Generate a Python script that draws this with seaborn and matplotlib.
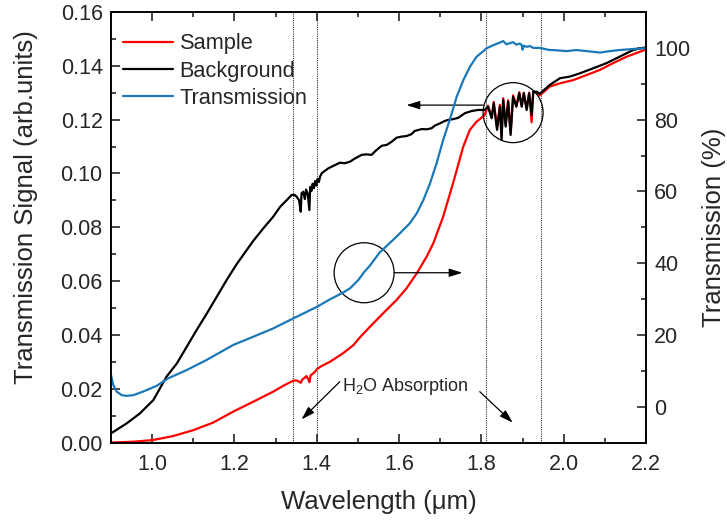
import numpy as np
import pandas as pd
import seaborn as sns
import matplotlib
matplotlib.use("Agg")
import matplotlib.pyplot as plt
from matplotlib.patches import Ellipse
from matplotlib.ticker import MultipleLocator

# ---------------- data ----------------
bg_x = [0.900, 0.938, 0.970, 1.003, 1.035, 1.060, 1.084, 1.108, 1.133, 1.157, 1.181,
        1.205, 1.230, 1.246, 1.270, 1.294, 1.311, 1.327, 1.339, 1.345, 1.351, 1.357,
        1.361, 1.363, 1.367, 1.371, 1.374, 1.378, 1.382, 1.384, 1.387, 1.390, 1.393,
        1.396, 1.399, 1.402, 1.405, 1.408, 1.412, 1.428, 1.444, 1.456, 1.468, 1.481,
        1.493, 1.509, 1.521, 1.533, 1.545, 1.558, 1.570, 1.582, 1.594, 1.606, 1.618,
        1.630, 1.638, 1.655, 1.667, 1.679, 1.687, 1.699, 1.711, 1.719, 1.732, 1.744,
        1.760, 1.776, 1.792, 1.808, 1.816, 1.825, 1.830, 1.838, 1.845, 1.849, 1.853,
        1.859, 1.865, 1.871, 1.877, 1.885, 1.892, 1.898, 1.903, 1.910, 1.916, 1.922,
        1.926, 1.934, 1.942, 1.966, 1.991, 2.015, 2.039, 2.072, 2.104, 2.136, 2.169,
        2.197]
bg_y = [0.0034, 0.0071, 0.0108, 0.0158, 0.0245, 0.0294, 0.0356, 0.0418, 0.0480, 0.0542, 0.0604,
        0.0662, 0.0716, 0.0750, 0.0796, 0.0839, 0.0876, 0.0901, 0.0920, 0.0921, 0.0914, 0.0900,
        0.0858, 0.0926, 0.0932, 0.0905, 0.0940, 0.0925, 0.0864, 0.0950, 0.0935, 0.0962, 0.0945,
        0.0972, 0.0955, 0.0980, 0.0968, 0.0988, 0.1001, 0.1019, 0.1031, 0.1040, 0.1038, 0.1044,
        0.1056, 0.1069, 0.1071, 0.1069, 0.1087, 0.1103, 0.1106, 0.1118, 0.1133, 0.1137, 0.1139,
        0.1146, 0.1158, 0.1165, 0.1164, 0.1168, 0.1178, 0.1186, 0.1195, 0.1199, 0.1202, 0.1207,
        0.1224, 0.1232, 0.1236, 0.1236, 0.1248, 0.1205, 0.1261, 0.1162, 0.1248, 0.1125, 0.1273,
        0.1174, 0.1267, 0.1143, 0.1285, 0.1248, 0.1298, 0.1248, 0.1298, 0.1236, 0.1298, 0.1217,
        0.1304, 0.1304, 0.1296, 0.1329, 0.1354, 0.1360, 0.1372, 0.1391, 0.1410, 0.1434, 0.1459,
        0.1468]

smp_x = [0.900, 0.954, 1.001, 1.051, 1.100, 1.148, 1.197, 1.246, 1.294, 1.320, 1.343,
         1.350, 1.357, 1.361, 1.365, 1.370, 1.375, 1.379, 1.382, 1.385, 1.390, 1.395,
         1.400, 1.410, 1.432, 1.464, 1.489, 1.505, 1.529, 1.561, 1.594, 1.618, 1.643,
         1.667, 1.683, 1.707, 1.731, 1.756, 1.772, 1.788, 1.808, 1.816, 1.825, 1.830,
         1.838, 1.845, 1.849, 1.853, 1.859, 1.865, 1.871, 1.877, 1.885, 1.892, 1.898,
         1.903, 1.910, 1.916, 1.922, 1.926, 1.934, 1.942, 1.966, 1.991, 2.023, 2.056,
         2.088, 2.120, 2.153, 2.197]
smp_y = [0.0000, 0.0003, 0.0009, 0.0024, 0.0046, 0.0074, 0.0115, 0.0152, 0.0189, 0.0212, 0.0230,
         0.0231, 0.0226, 0.0222, 0.0235, 0.0240, 0.0247, 0.0236, 0.0224, 0.0250, 0.0255, 0.0262,
         0.0272, 0.0283, 0.0300, 0.0332, 0.0362, 0.0391, 0.0430, 0.0480, 0.0530, 0.0573, 0.0629,
         0.0691, 0.0740, 0.0839, 0.0963, 0.1100, 0.1162, 0.1192, 0.1217, 0.1252, 0.1210, 0.1266,
         0.1170, 0.1255, 0.1135, 0.1280, 0.1182, 0.1272, 0.1150, 0.1290, 0.1252, 0.1302, 0.1250,
         0.1300, 0.1240, 0.1300, 0.1190, 0.1302, 0.1300, 0.1290, 0.1323, 0.1335, 0.1347, 0.1366,
         0.1385, 0.1410, 0.1434, 0.1459]

tr_x = [0.900, 0.9056, 0.9138, 0.926, 0.938, 0.954, 0.978, 1.011, 1.039, 1.084, 1.132,
        1.197, 1.246, 1.294, 1.343, 1.400, 1.432, 1.464, 1.481, 1.501, 1.515, 1.529,
        1.553, 1.594, 1.626, 1.643, 1.659, 1.675, 1.691, 1.707, 1.723, 1.740, 1.756,
        1.772, 1.788, 1.808, 1.8125, 1.830, 1.845, 1.853, 1.861, 1.869, 1.877, 1.885,
        1.893, 1.898, 1.900, 1.903, 1.910, 1.918, 1.926, 1.942, 1.966, 1.974, 2.007,
        2.031, 2.072, 2.088, 2.112, 2.136, 2.169, 2.201]
tr_y = [8.8, 6.0, 4.2, 3.2, 3.0, 3.2, 4.2, 5.8, 7.9, 10.2, 13.0,
        17.2, 19.5, 21.8, 24.6, 27.8, 29.9, 31.8, 33.0, 35.3, 37.5, 39.3,
        43.0, 47.4, 51.1, 53.9, 57.6, 62.2, 67.8, 74.3, 79.9, 86.4, 91.0,
        94.7, 97.5, 99.4, 99.9, 100.8, 101.5, 101.9, 101.0, 101.3, 101.6, 100.9,
        101.2, 100.8, 99.5, 100.6, 100.3, 100.5, 100.0, 100.0, 99.4, 99.4, 99.1,
        99.4, 98.9, 98.7, 99.1, 99.4, 99.7, 99.9]

water_bands = [1.343, 1.401, 1.812, 1.944]

x_ticks = [1.0, 1.2, 1.4, 1.6, 1.8, 2.0, 2.2]
y_left_ticks = [0.00, 0.02, 0.04, 0.06, 0.08, 0.10, 0.12, 0.14, 0.16]
y_right_ticks = [0, 20, 40, 60, 80, 100]

RED = "#ff0000"
BLACK = "#000000"
BLUE = "#1a78b8"

# ---------------- style ----------------
sns.set_style("white")
plt.rcParams["font.family"] = ["Liberation Sans", "DejaVu Sans"]
plt.rcParams["mathtext.fontset"] = "custom"
plt.rcParams["mathtext.rm"] = "Liberation Sans"
plt.rcParams["mathtext.it"] = "Liberation Sans:italic"

fig = plt.figure(figsize=(7.27, 5.27), dpi=100)
ax = fig.add_axes([0.1527, 0.1603, 0.7359, 0.8169])
ax2 = ax.twinx()

df_s = pd.DataFrame({"x": smp_x, "y": smp_y})
df_b = pd.DataFrame({"x": bg_x, "y": bg_y})
df_t = pd.DataFrame({"x": tr_x, "y": tr_y})

sns.lineplot(data=df_s, x="x", y="y", ax=ax, color=RED, lw=1.6, sort=False,
             estimator=None, label="Sample", legend=False)
sns.lineplot(data=df_b, x="x", y="y", ax=ax, color=BLACK, lw=1.6, sort=False,
             estimator=None, label="Background", legend=False)
sns.lineplot(data=df_t, x="x", y="y", ax=ax2, color=BLUE, lw=1.6, sort=False,
             estimator=None, label="Transmission", legend=False)

for xb in water_bands:
    ax.axvline(xb, color="#333333", lw=0.8, ls=(0, (1, 1)), zorder=0)

ax.set_xlim(0.9, 2.2)
ax.set_ylim(0.0, 0.16)
ax2.set_ylim(-10, 110)
ax.set_xticks(x_ticks)
ax.set_xticklabels([f"{v:.1f}" for v in x_ticks])
ax.set_yticks(y_left_ticks)
ax.set_yticklabels([f"{v:.2f}" for v in y_left_ticks])
ax2.set_yticks(y_right_ticks)
ax2.set_yticklabels([str(v) for v in y_right_ticks])

ax.xaxis.set_minor_locator(MultipleLocator(0.1))
ax.yaxis.set_minor_locator(MultipleLocator(0.01))
ax2.yaxis.set_minor_locator(MultipleLocator(10))

TS = 15.5
ax.tick_params(axis="x", which="both", direction="in", top=True, bottom=True,
               labelsize=TS, pad=8, width=1.2)
ax.tick_params(axis="y", which="both", direction="in", left=True, right=False,
               labelsize=TS, pad=6, width=1.2)
ax2.tick_params(axis="y", which="both", direction="in", right=True, left=False,
                labelsize=TS, pad=6, width=1.2)
for a in (ax, ax2):
    a.tick_params(which="major", length=6.5)
    a.tick_params(which="minor", length=3.5)
    for sp in a.spines.values():
        sp.set_linewidth(1.2)
        sp.set_color("black")

LS = 18.5
ax.set_xlabel("Wavelength (μm)", fontsize=LS, labelpad=11)
ax.set_ylabel("Transmission Signal (arb.units)", fontsize=LS)
ax.yaxis.set_label_coords(-0.137, 0.547)
ax2.set_ylabel("Transmission (%)", fontsize=LS, labelpad=8)

# legend
h1, l1 = ax.get_legend_handles_labels()
h2, l2 = ax2.get_legend_handles_labels()
leg = ax.legend(h1 + h2, l1 + l2, loc="upper left", frameon=False, fontsize=15.7,
                handlelength=2.3, handletextpad=0.3, labelspacing=0.28,
                borderaxespad=0.15, bbox_to_anchor=(0.0, 0.978))

# annotations
ax.add_patch(Ellipse((1.877, 0.1226), 0.1457, 0.0223, fill=False, lw=0.9, color="black", zorder=5))
ax.add_patch(Ellipse((1.515, 0.0631), 0.1457, 0.0223, fill=False, lw=0.9, color="black", zorder=5))
arrow = dict(arrowstyle="-|>,head_length=0.8,head_width=0.25", color="black", lw=0.9,
             shrinkA=0, shrinkB=0)
ax.annotate("", xy=(1.618, 0.1254), xytext=(1.804, 0.1254), arrowprops=arrow)
ax.annotate("", xy=(1.754, 0.0631), xytext=(1.588, 0.0631), arrowprops=arrow)
ax.annotate("", xy=(1.363, 0.0086), xytext=(1.456, 0.0226), arrowprops=arrow)
ax.annotate("", xy=(1.876, 0.0074), xytext=(1.796, 0.0189), arrowprops=arrow)
ax.text(1.462, 0.0207, "H$_2$O Absorption", fontsize=13, va="center", ha="left")

fig.savefig("out.png", dpi=100)
